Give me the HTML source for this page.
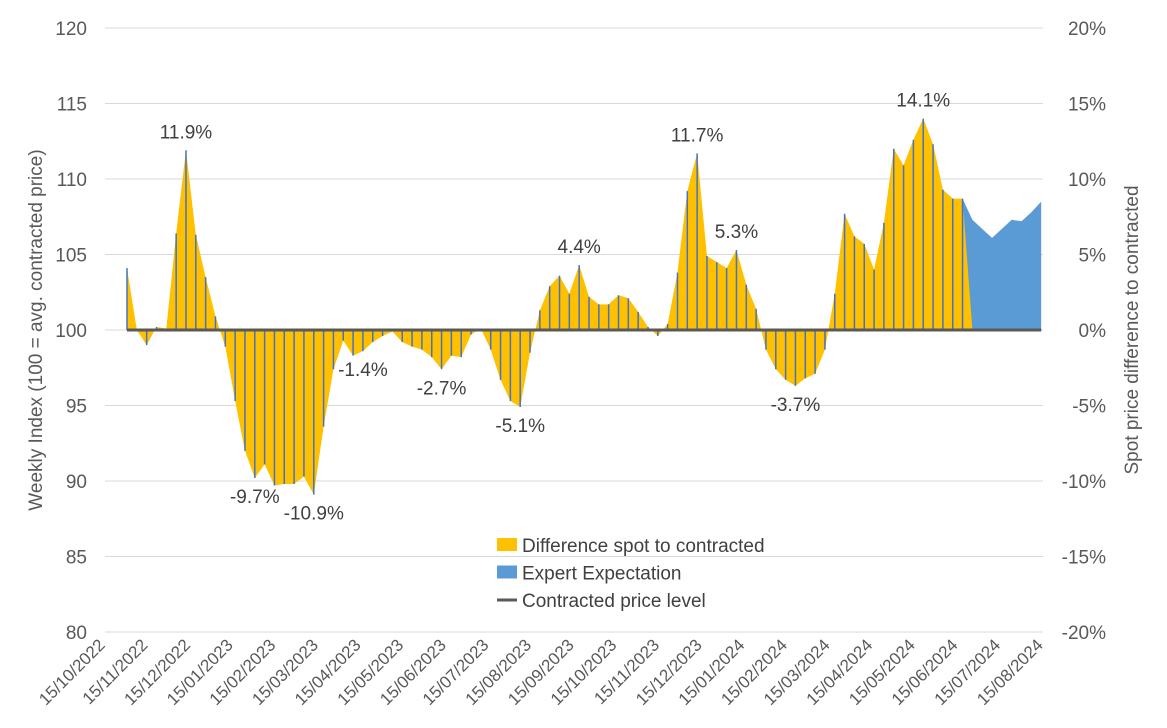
<!DOCTYPE html>
<html><head><meta charset="utf-8"><style>
html,body{margin:0;padding:0;background:#fff;}
svg{display:block;font-family:"Liberation Sans",Arial,sans-serif;}
</style></head><body>
<svg id="chart" width="1167" height="728"></svg>
<script>
const yTicks=[80,85,90,95,100,105,110,115,120];
const yRightTicks=["-20%","-15%","-10%","-5%","0%","5%","10%","15%","20%"];
const xLabels=["15/10/2022","15/11/2022","15/12/2022","15/01/2023","15/02/2023","15/03/2023","15/04/2023","15/05/2023","15/06/2023","15/07/2023","15/08/2023","15/09/2023","15/10/2023","15/11/2023","15/12/2023","15/01/2024","15/02/2024","15/03/2024","15/04/2024","15/05/2024","15/06/2024","15/07/2024","15/08/2024"];
const diffValues=[4.1,0,-1.0,0.2,0.1,6.4,11.9,6.3,3.5,0.9,-1.1,-4.7,-8.0,-9.8,-8.9,-10.3,-10.2,-10.2,-9.7,-10.9,-6.4,-2.6,-0.7,-1.7,-1.4,-0.8,-0.4,-0.1,-0.8,-1.1,-1.3,-1.8,-2.6,-1.7,-1.8,-0.3,0.1,-1.3,-3.3,-4.7,-5.1,-1.5,1.3,2.9,3.6,2.4,4.3,2.2,1.7,1.7,2.3,2.1,1.2,0.2,-0.4,0.4,3.8,9.2,11.7,4.9,4.5,4.1,5.3,3.0,1.4,-1.3,-2.6,-3.3,-3.7,-3.2,-2.9,-1.3,2.4,7.7,6.2,5.7,4.0,7.1,12.0,10.9,12.6,14.0,12.3,9.3,8.7,8.7];
const expertValues=[8.7,7.3,6.7,6.1,6.7,7.3,7.2,7.8,8.5];
const annotations=[[6,"11.9%",-1],[13,"-9.7%",1],[19,"-10.9%",1],[24,"-1.4%",1],[32,"-2.7%",1],[40,"-5.1%",1],[46,"4.4%",-1],[58,"11.7%",-1],[62,"5.3%",-1],[68,"-3.7%",1],[81,"14.1%",-1]];

const svg=document.getElementById('chart');
const NS='http://www.w3.org/2000/svg';
const L=105,R=1043,T=28,B=632;
const Y=v=>B-(v-80)/40*(B-T);
const D=d=>Y(100+d);
const X=i=>127+i*9.83;
function mk(tag,attrs,parent){const e=document.createElementNS(NS,tag);for(const k in attrs)e.setAttribute(k,attrs[k]);(parent||svg).appendChild(e);return e;}

yTicks.forEach((t,k)=>{
  const g=mk('line',{x1:L,x2:R,y1:Y(t),y2:Y(t),stroke:'#d9d9d9','stroke-width':1});
  
  
  const lt=mk('text',{x:87,y:Y(t)+7,'text-anchor':'end','font-size':19,fill:'#595959'});lt.textContent=t;
  
  
  const rt=mk('text',{x:1106,y:Y(t)+7,'text-anchor':'end','font-size':19,fill:'#595959'});rt.textContent=yRightTicks[k];
  
  
});
const xa=mk('line',{x1:L,x2:R,y1:B,y2:B,stroke:'#d9d9d9','stroke-width':1});


xLabels.forEach((s,k)=>{
  const x=L+k*(R-L)/(xLabels.length-1);
  const t=mk('text',{x:x+1,y:B+14,'text-anchor':'end','font-size':17,fill:'#595959',transform:`rotate(-45 ${x+1} ${B+14})`});t.textContent=s;
  
  
});
let p=`M${X(85)},${D(0)}`;
expertValues.forEach((v,j)=>p+=` L${X(85+j)},${D(v)}`);
p+=` L${X(85+expertValues.length-1)},${D(0)}Z`;
const ea=mk('path',{d:p,fill:'#5b9bd5'});


p=`M${X(0)},${D(0)}`;
diffValues.forEach((v,i)=>p+=` L${X(i)},${D(v)}`);
p+=` L${X(diffValues.length)},${D(0)}Z`;
const da=mk('path',{d:p,fill:'#ffc000'});


diffValues.forEach((v,i)=>{
  const l=mk('line',{x1:X(i),x2:X(i),y1:D(0),y2:D(v),stroke:'#4472c4','stroke-width':1.5});
  
  
});
const cl=mk('line',{x1:X(0),x2:X(93),y1:D(0),y2:D(0),stroke:'#595959','stroke-width':3});


annotations.forEach(a=>{
  const v=diffValues[a[0]];
  const t=mk('text',{x:X(a[0]),y:a[2]<0?D(v)-12:D(v)+25,'text-anchor':'middle','font-size':19,fill:'#404040'});t.textContent=a[1];
  
  
});
const yt=mk('text',{x:42,y:330,'text-anchor':'middle','font-size':19,fill:'#595959',transform:'rotate(-90 42 330)'});yt.textContent='Weekly Index (100 = avg. contracted price)';


const yr=mk('text',{x:1138,y:330,'text-anchor':'middle','font-size':19,fill:'#595959',transform:'rotate(-90 1138 330)'});yr.textContent='Spot price difference to contracted';


const leg=[['#ffc000','Difference spot to contracted','rect'],['#5b9bd5','Expert Expectation','rect'],['#595959','Contracted price level','line']];
leg.forEach((e,k)=>{
  const y=545+k*27.5;
  const g=mk('g',{});
  
  
  if(e[2]==='rect')mk('rect',{x:497,y:y-7,width:20,height:13,fill:e[0]},g);
  else mk('line',{x1:497,x2:517,y1:y,y2:y,stroke:e[0],'stroke-width':3},g);
  const t=mk('text',{x:522,y:y+7,'font-size':19,fill:'#404040'},g);t.textContent=e[1];
});
</script>
</body></html>
